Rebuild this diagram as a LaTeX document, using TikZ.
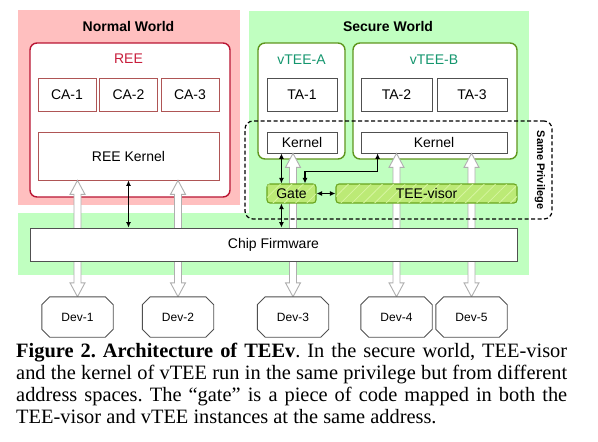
\documentclass[tikz,border=0pt]{standalone}
\usepackage{fontspec}
\setmainfont{Liberation Serif}
\setsansfont{Liberation Sans}
\frenchspacing
\usetikzlibrary{arrows.meta,calc,patterns.meta}
\definecolor{pinkbg}{RGB}{255,191,191}
\definecolor{greenbg}{RGB}{192,255,192}
\definecolor{reered}{RGB}{185,20,50}
\definecolor{reetext}{RGB}{200,30,60}
\definecolor{cared}{RGB}{175,85,85}
\definecolor{vgreen}{RGB}{95,150,30}
\definecolor{vtext}{RGB}{20,150,110}
\definecolor{gatefill}{RGB}{188,234,118}
\definecolor{hatchc}{RGB}{214,246,160}
\definecolor{gborder}{RGB}{105,165,30}
\definecolor{arrgrey}{RGB}{175,175,175}
\definecolor{boxgrey}{RGB}{80,80,80}
\pgfdeclarelayer{back}
\pgfdeclarelayer{arrows}
\pgfsetlayers{back,arrows,main}
\newcommand\fatarrow[2]{%
  \draw[fatarr] (#1) -- ++(7.5pt,-14pt) -- ++(-4pt,0) -- ($(#2)+(3.5pt,14pt)$) -- ++(4pt,0) -- (#2)
    -- ++(-7.5pt,14pt) -- ++(4pt,0) -- ($(#1)+(-3.5pt,-14pt)$) -- ++(-4pt,0) -- cycle;}
\newcommand\devoct[1]{%
  \draw[devline] ([xshift=8pt]#1.north west) -- ([xshift=-8pt]#1.north east) -- ([yshift=-8pt]#1.north east)
    -- ([yshift=8pt]#1.south east) -- ([xshift=-8pt]#1.south east) -- ([xshift=8pt]#1.south west)
    -- ([yshift=8pt]#1.south west) -- ([yshift=-8pt]#1.north west) -- cycle;}
\tikzset{
  lbl/.style={font=\sffamily\fontsize{14}{16}\selectfont, inner sep=0pt},
  title/.style={font=\sffamily\bfseries\fontsize{14}{16}\selectfont, inner sep=0pt},
  outerbox/.style={draw, line width=1.4pt, fill=white, rounded corners=7pt, inner sep=0pt},
  inbox/.style={draw, line width=0.8pt, fill=white, inner sep=0pt, font=\sffamily\fontsize{14}{16}\selectfont},
  gatebox/.style={draw=gborder, line width=1.1pt, rounded corners=3pt, fill=gatefill,
    postaction={pattern={Lines[angle=45,distance=8pt,line width=0.8pt]}, pattern color=hatchc},
    inner sep=0pt, font=\sffamily\fontsize{14}{16}\selectfont},
  devbox/.style={minimum width=71pt, minimum height=40pt, inner sep=0pt, font=\sffamily\fontsize{12}{14}\selectfont},
  devline/.style={draw=boxgrey, line width=0.9pt, fill=white, line join=miter},
  fatarr/.style={draw=arrgrey, line width=0.9pt, fill=white, line join=miter},
  blk/.style={line width=1.1pt, {Latex[length=5.5pt,width=5pt]}-{Latex[length=5.5pt,width=5pt]}},
  caprm/.style={font=\rmfamily\fontsize{20.4}{22}\selectfont, inner sep=0pt, anchor=base west}
}
\begin{document}
\begin{tikzpicture}[x=1pt,y=-1pt]
\useasboundingbox (0,0) rectangle (598,442);
\begin{pgfonlayer}{back}
  \fill[pinkbg] (18,10) rectangle (240,205);
  \fill[greenbg] (249,11) rectangle (529,275);
  \fill[greenbg] (18,213) rectangle (529,275);
  \node[title] (nw) at (128.5,26) {Normal World};
  \node[title] (sw) at (388,26) {Secure World};
  % REE
  \node[outerbox, draw=reered, minimum width=200pt, minimum height=154pt] (ree) at (130,120) {};
  \node[lbl, text=reetext] (reel) at (128.5,59) {REE};
  \node[inbox, draw=cared, minimum width=58pt, minimum height=33pt] (ca1) at (67,94.5) {CA-1};
  \node[inbox, draw=cared, minimum width=58pt, minimum height=33pt] (ca2) at (128.5,94.5) {CA-2};
  \node[inbox, draw=cared, minimum width=58pt, minimum height=33pt] (ca3) at (190,94.5) {CA-3};
  \node[inbox, draw=cared, minimum width=181pt, minimum height=48pt] (reek) at (128.5,156) {REE Kernel};
  % vTEEs
  \node[outerbox, draw=vgreen, minimum width=87pt, minimum height=116pt] (va) at (301.5,101) {};
  \node[lbl, text=vtext] (val) at (301.5,60) {vTEE-A};
  \node[outerbox, draw=vgreen, minimum width=164pt, minimum height=116pt] (vb) at (435,101) {};
  \node[lbl, text=vtext] (vbl) at (434,60) {vTEE-B};
  \node[inbox, draw=boxgrey, minimum width=70pt, minimum height=33pt] (ta1) at (302,94.5) {TA-1};
  \node[inbox, draw=boxgrey, minimum width=71pt, minimum height=33pt] (ta2) at (396.5,94.5) {TA-2};
  \node[inbox, draw=boxgrey, minimum width=70pt, minimum height=33pt] (ta3) at (472,94.5) {TA-3};
  \node[inbox, draw=boxgrey, minimum width=70pt, minimum height=21pt] (kera) at (302,142.5) {Kernel};
  \node[inbox, draw=boxgrey, minimum width=146pt, minimum height=21pt] (kerb) at (434,142.5) {Kernel};
\end{pgfonlayer}
% front nodes
\node[inbox, draw=boxgrey, minimum width=487pt, minimum height=33pt] (chip) at (273.5,244.5) {Chip Firmware};
\node[gatebox, minimum width=49pt, minimum height=19pt] (gate) at (291.5,193.5) {Gate};
\node[gatebox, minimum width=181pt, minimum height=19pt] (visor) at (426.5,193.5) {TEE-visor};
\node[devbox] (dev1) at (77.5,317) {};
\node[devbox] (dev2) at (178,317) {};
\node[devbox] (dev3) at (293,317) {};
\node[devbox] (dev4) at (396.5,317) {};
\node[devbox] (dev5) at (471.5,317) {};
\devoct{dev1}\devoct{dev2}\devoct{dev3}\devoct{dev4}\devoct{dev5}
\node[devbox] (dev1l) at (dev1) {Dev-1};
\node[devbox] (dev2l) at (dev2) {Dev-2};
\node[devbox] (dev3l) at (dev3) {Dev-3};
\node[devbox] (dev4l) at (dev4) {Dev-4};
\node[devbox] (dev5l) at (dev5) {Dev-5};
% hollow arrows
\begin{pgfonlayer}{arrows}
  \coordinate (t1) at (dev1.north |- reek.south);
  \coordinate (t2) at (dev2.north |- reek.south);
  \coordinate (t3) at (dev3.north |- kera.south);
  \coordinate (t4) at (dev4.north |- kerb.south);
  \coordinate (t5) at (dev5.north |- kerb.south);
  \fatarrow{t1}{dev1.north}
  \fatarrow{t2}{dev2.north}
  \fatarrow{t3}{dev3.north}
  \fatarrow{t4}{dev4.north}
  \fatarrow{t5}{dev5.north}
\end{pgfonlayer}
% black arrows
\draw[blk] (reek.south) -- (reek.south |- chip.north);
\coordinate (ga) at ([xshift=15pt]gate.north west);
\coordinate (gb) at ([xshift=15pt]gate.south west);
\draw[blk] (ga |- kera.south) -- (ga);
\draw[blk] (gb) -- (gb |- chip.north);
\coordinate (ge) at ([xshift=13.5pt]gate.north);
\coordinate (kb) at ([xshift=17pt]kerb.south west);
\draw[blk, rounded corners=0pt] (ge) -- ++(0,-12) -| (kb);
\draw[blk] (gate.east) -- (visor.west);
% same privilege
\node[draw, dashed, dash pattern=on 4pt off 2.5pt, line width=1.2pt, rounded corners=8pt,
  minimum width=307pt, minimum height=98pt, inner sep=0pt] (priv) at (398.5,170) {};
\node[font=\sffamily\bfseries\fontsize{11}{13}\selectfont, rotate=-90, inner sep=0pt] (privl) at (540,170) {Same Privilege};
% caption
\node[caprm] (c1) at (16,357) {\makebox[551pt][s]{\textbf{Figure 2. Architecture of TEEv}. In the secure world, TEE-visor}};
\node[caprm] (c2) at (16,379) {\makebox[551pt][s]{and the kernel of vTEE run in the same privilege but from different}};
\node[caprm] (c3) at (16,401) {\makebox[551pt][s]{address spaces. The “gate” is a piece of code mapped in both the}};
\node[caprm] (c4) at (16,423) {TEE-visor and vTEE instances at the same address.};
\end{tikzpicture}
\end{document}
